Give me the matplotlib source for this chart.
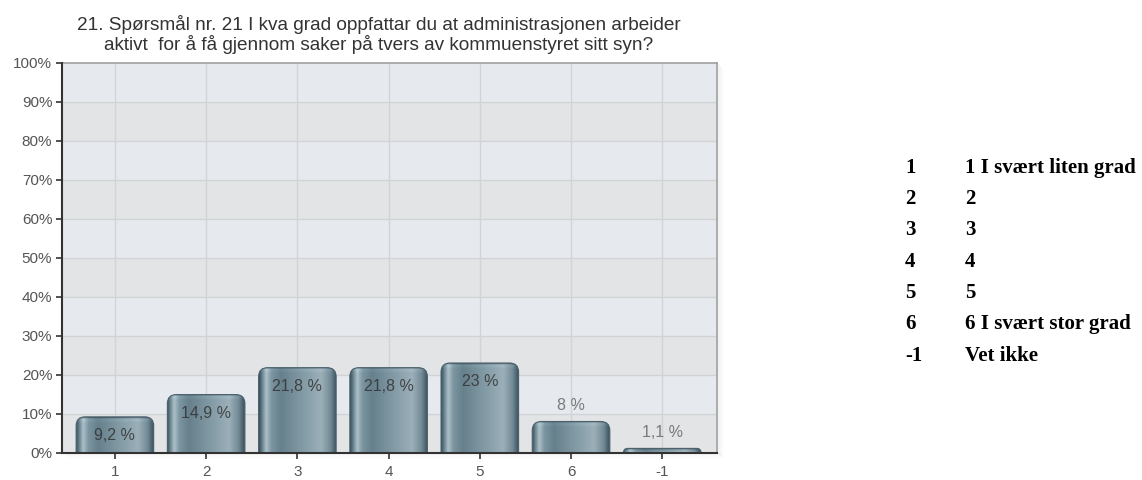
import numpy as np
import matplotlib
matplotlib.use("Agg")
import matplotlib.pyplot as plt
from matplotlib.path import Path
from matplotlib.patches import PathPatch, Rectangle
from matplotlib.colors import to_rgb

# Data
categories = ["1", "2", "3", "4", "5", "6", "-1"]
values = [9.2, 14.9, 21.8, 21.8, 23.0, 8.0, 1.1]
value_labels = ["9,2 %", "14,9 %", "21,8 %", "21,8 %", "23 %", "8 %", "1,1 %"]
y_ticks = list(range(0, 101, 10))

legend_codes = ["1", "2", "3", "4", "5", "6", "-1"]
legend_texts = ["1 I svært liten grad", "2", "3", "4", "5",
                "6 I svært stor grad", "Vet ikke"]

TITLE = ("21. Spørsmål nr. 21 I kva grad oppfattar du at administrasjonen arbeider\n"
         "aktivt  for å få gjennom saker på tvers av kommuenstyret sitt syn?")

W, H, DPI = 1142, 480, 100
AX_L, AX_R, AX_T, AX_B = 62, 717, 62.7, 452.7
XLIM = (-0.58, 6.6)
BAR_W = 0.85
SANS = "Liberation Sans"

# horizontal metallic profile across a bar
STOPS = [
    (0.00, "#3b515c"),
    (0.04, "#6a8591"),
    (0.09, "#adc0c8"),
    (0.16, "#7a94a0"),
    (0.28, "#66808c"),
    (0.60, "#869ea8"),
    (0.80, "#9bafb8"),
    (0.92, "#748c98"),
    (1.00, "#3b515c"),
]


def bar_profile(n=120):
    pos = np.array([s[0] for s in STOPS])
    cols = np.array([to_rgb(s[1]) for s in STOPS])
    t = np.linspace(0, 1, n)
    return np.stack([np.interp(t, pos, cols[:, k]) for k in range(3)], axis=1)


def rounded_top(x0, x1, y0, y1, rx, ry):
    verts = [(x0, y0), (x0, y1 - ry), (x0, y1), (x0 + rx, y1),
             (x1 - rx, y1), (x1, y1), (x1, y1 - ry), (x1, y0), (x0, y0)]
    codes = [Path.MOVETO, Path.LINETO, Path.CURVE3, Path.CURVE3,
             Path.LINETO, Path.CURVE3, Path.CURVE3, Path.LINETO, Path.CLOSEPOLY]
    return Path(verts, codes)


fig = plt.figure(figsize=(W / DPI, H / DPI), dpi=DPI, facecolor="white")
ax = fig.add_axes([AX_L / W, 1 - AX_B / H, (AX_R - AX_L) / W, (AX_B - AX_T) / H])

px_per_x = (AX_R - AX_L) / (XLIM[1] - XLIM[0])
px_per_y = (AX_B - AX_T) / 100.0

# soft shadow right of / below the plot area
for i in range(1, 7):
    a = 0.05 * (7 - i) / 6
    fig.add_artist(Rectangle(((AX_R + i) / W, 1 - (AX_B + i) / H), 1 / W,
                             (AX_B - AX_T) / H, transform=fig.transFigure,
                             color="black", alpha=a, lw=0))
    fig.add_artist(Rectangle(((AX_L + 4) / W, 1 - (AX_B + i) / H),
                             (AX_R - AX_L) / W, 1 / H, transform=fig.transFigure,
                             color="black", alpha=a * 0.7, lw=0))

# alternating bands
for i, y in enumerate(y_ticks[:-1]):
    ax.axhspan(y, y + 10, color="#e6eaee" if i % 2 else "#e3e4e6", lw=0, zorder=0)

x = np.arange(len(categories))
for xi in x:
    ax.axvline(xi, color="#d2d3d5", lw=1, zorder=1)
for y in y_ticks[1:-1]:
    ax.axhline(y, color="#d2d3d5", lw=1, zorder=1)

prof = bar_profile()
for xi, v, lab in zip(x, values, value_labels):
    x0, x1 = xi - BAR_W / 2, xi + BAR_W / 2
    h_px = v * px_per_y
    r_px = min(9.0, h_px)
    rx, ry = r_px / px_per_x, r_px / px_per_y
    path = rounded_top(x0, x1, 0, v, rx, ry)
    patch = PathPatch(path, facecolor="none", edgecolor="#4a606c", lw=0.8, zorder=4)
    ax.add_patch(patch)

    rows = max(int(round(h_px)), 2)
    shade = np.ones(rows)
    top = np.array([0.72, 0.95, 1.06, 1.05, 1.03, 1.01])
    n = min(len(top), rows)
    shade[:n] = top[:n]
    img = np.clip(prof[None, :, :] * shade[:, None, None], 0, 1)
    im = ax.imshow(img, extent=(x0, x1, 0, v), aspect="auto",
                   interpolation="bilinear", zorder=3, origin="upper")
    im.set_clip_path(patch)

    if v >= 9:
        ax.text(xi, v - 19 / px_per_y, lab, ha="center", va="center",
                fontsize=11.5, family=SANS, color="#333333", alpha=0.85, zorder=5)
    else:
        ax.text(xi, v + 16 / px_per_y, lab, ha="center", va="center",
                fontsize=11.5, family=SANS, color="#7a7a7a", zorder=5)

ax.set_xlim(*XLIM)
ax.set_ylim(0, 100)
ax.set_xticks(x)
ax.set_xticklabels(categories, family=SANS)
ax.set_yticks(y_ticks)
ax.set_yticklabels([f"{t}%" for t in y_ticks], family=SANS)
ax.tick_params(axis="both", labelsize=11, labelcolor="#555555", color="#333333",
               length=4, width=1.2)
ax.tick_params(axis="x", pad=5)
ax.tick_params(axis="y", pad=3)

for side in ("left", "bottom"):
    ax.spines[side].set_color("#333333")
    ax.spines[side].set_linewidth(1.5)
    ax.spines[side].set_zorder(6)
for side in ("top", "right"):
    ax.spines[side].set_color("#a0a0a0")
    ax.spines[side].set_linewidth(1.2)

fig.text(379 / W, 1 - 34.5 / H, TITLE, ha="center", va="center", fontsize=13.7,
         color="#333333", family=SANS, linespacing=1.1)

# legend table on the right
leg_y = [168, 199, 230, 262, 293, 324, 356]
for y, code, txt in zip(leg_y, legend_codes, legend_texts):
    fig.text(905 / W, 1 - y / H, code, ha="left", va="center", fontsize=15,
             fontweight="bold", family="Liberation Serif", color="black")
    fig.text(965 / W, 1 - y / H, txt, ha="left", va="center", fontsize=15,
             fontweight="bold", family="Liberation Serif", color="black")

fig.savefig("out.png", dpi=DPI, facecolor="white")
